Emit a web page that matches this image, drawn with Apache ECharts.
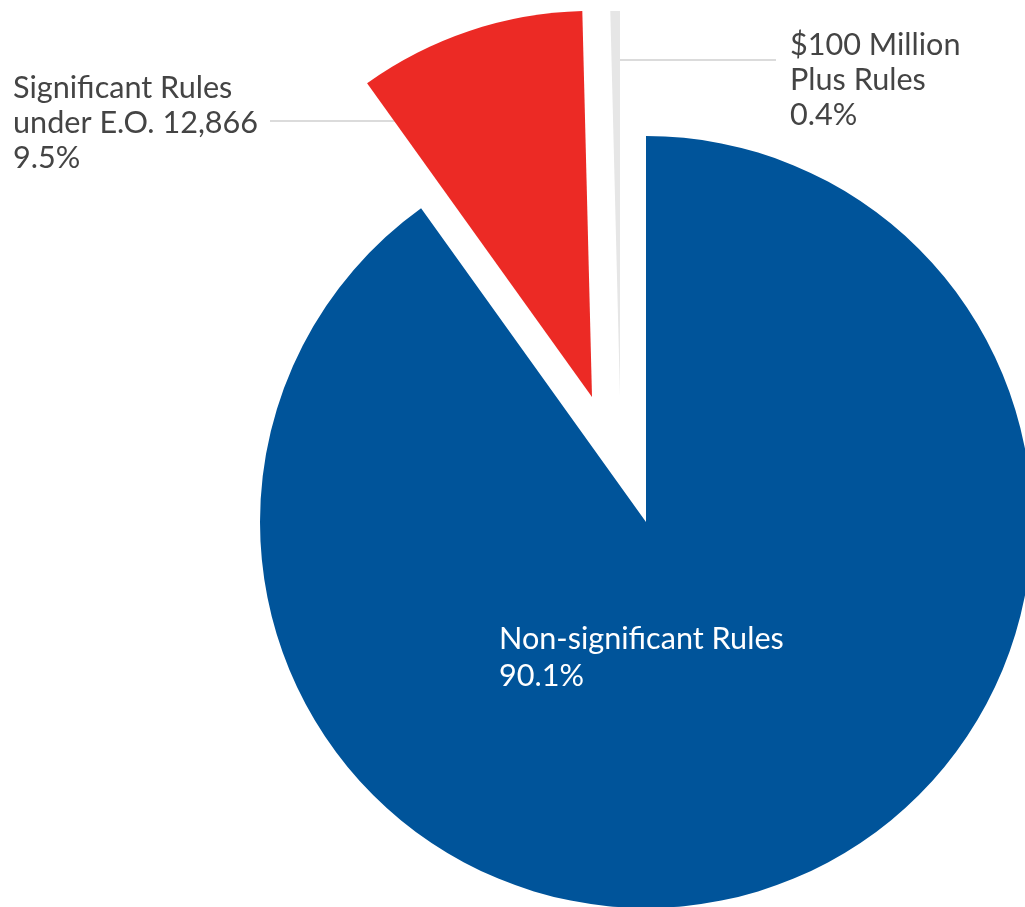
<!DOCTYPE html>
<html>
<head>
<meta charset="utf-8">
<style>
  html, body { margin: 0; padding: 0; background: #ffffff; }
  #chart { width: 1025px; height: 907px; }
</style>
<script src="https://cdn.jsdelivr.net/npm/echarts@6/dist/echarts.min.js"></script>
</head>
<body>
<div id="chart"></div>
<script>
// Share of rules by category (percent)
const categories = ['Non-significant Rules', 'Significant Rules\nunder E.O. 12,866', '$100 Million\nPlus Rules'];
const shares = [90.1, 9.5, 0.4];
const sliceColors = ['#00549A', '#EC2A25', '#E6E6E6'];

// Exploded pie: each slice is drawn by its own series so it can sit at its own apex
const RADIUS = 386;
const apexes = [[646, 522], [592, 397], [620, 397]];
const labelBoxes = [
  { x: 499, y: 621, color: '#ffffff', lineHeight: 37, line: null },
  { x: 13, y: 71, color: '#444444', lineHeight: 35, line: [[270, 121], [340, 121], [411, 121]] },
  { x: 790, y: 28, color: '#444444', lineHeight: 35, line: [[776, 60], [700, 60], [616, 60]] }
];

const chart = echarts.init(document.getElementById('chart'), null, { renderer: 'canvas' });

const series = categories.map((_, focus) => ({
  type: 'pie',
  radius: RADIUS,
  center: apexes[focus],
  startAngle: 90,
  clockwise: true,
  silent: true,
  avoidLabelOverlap: false,
  animation: false,
  z: focus === 0 ? 2 : 3,
  data: categories.map((name, i) => ({
    name: name,
    value: shares[i],
    itemStyle: { color: i === focus ? sliceColors[i] : 'rgba(0,0,0,0)', borderWidth: 0 },
    label: {
      show: i === focus,
      position: i === 0 ? 'inside' : 'outside',
      formatter: (p) => p.name + '\n' + p.value + '%',
      fontFamily: 'Lato',
      fontSize: 30.6,
      lineHeight: labelBoxes[i].lineHeight,
      color: labelBoxes[i].color,
      align: 'left'
    },
    labelLine: {
      show: i === focus && i !== 0,
      lineStyle: { color: '#cfcfcf', width: 1.5 }
    }
  })),
  labelLayout: (params) => {
    const box = labelBoxes[focus];
    if (params.dataIndex !== focus) return {};
    const out = { x: box.x, y: box.y, align: 'left', verticalAlign: 'top' };
    if (box.line) out.labelLinePoints = box.line;
    return out;
  }
}));

chart.setOption({
  backgroundColor: '#ffffff',
  animation: false,
  series: series
});
</script>
</body>
</html>
